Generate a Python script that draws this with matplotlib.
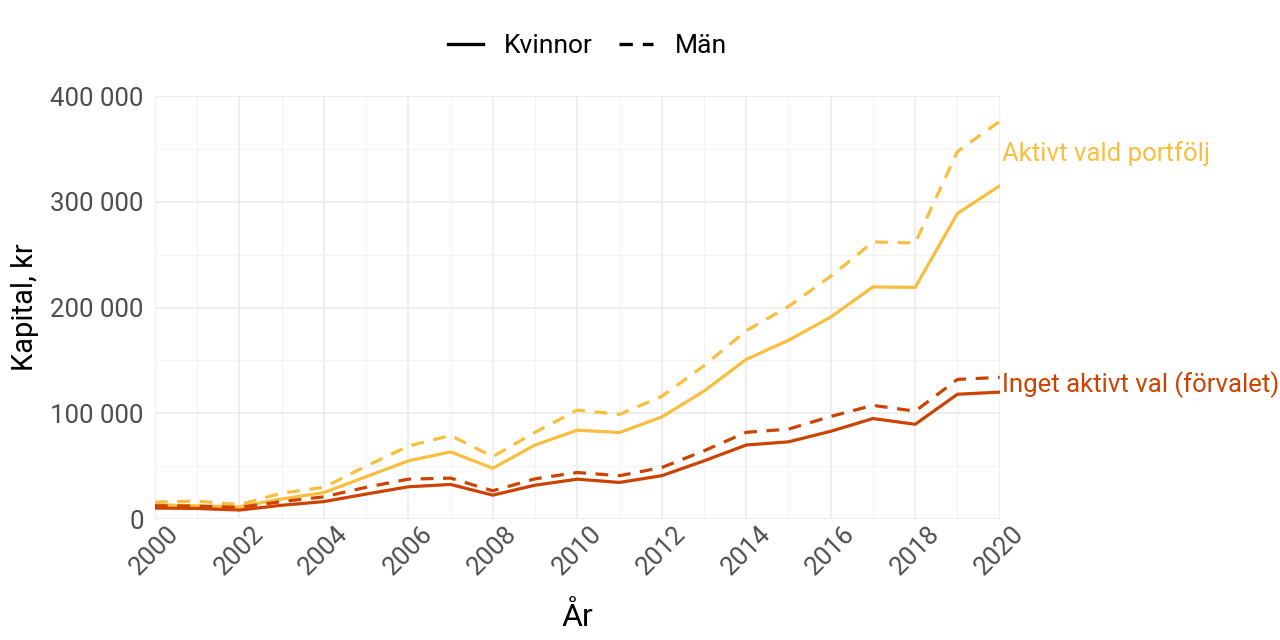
import matplotlib
matplotlib.use("Agg")
import matplotlib.pyplot as plt
from matplotlib.lines import Line2D
from matplotlib.ticker import FuncFormatter, MultipleLocator

plt.rcParams["font.family"] = ["Roboto", "DejaVu Sans"]

years = list(range(2000, 2021))

# Aktivt vald portfölj
aktiv_kvinnor = [13500, 12500, 11500, 19000, 25000, 40000, 55000, 63500, 48000, 70000, 84000,
                 81800, 96500, 121000, 151000, 169000, 191000, 219500, 219000, 289000, 315000]
aktiv_man = [16000, 17000, 13500, 24500, 30000, 50000, 69000, 79000, 59000, 82000, 103000,
             99000, 116000, 145000, 178000, 201000, 229500, 262000, 261000, 347500, 376000]

# Inget aktivt val (förvalet)
inget_kvinnor = [10400, 10000, 8500, 13000, 16500, 23600, 30500, 32700, 22600, 32000, 37700,
                 34600, 41000, 55000, 70000, 73000, 83000, 95000, 89600, 118000, 120000]
inget_man = [12600, 12200, 11000, 16500, 21000, 30000, 37700, 38700, 26700, 38000, 44000,
             41000, 48700, 64500, 82000, 85000, 97000, 107500, 102000, 132000, 134000]

gul = "#F9BE3E"
rod = "#CC4200"

fig = plt.figure(figsize=(12.8, 6.4), dpi=100)
ax = fig.add_axes([0.121, 0.189, 0.66, 0.661])

lw = 2.3
dash = (0, (4, 3))
ax.plot(years, aktiv_kvinnor, color=gul, lw=lw)
ax.plot(years, aktiv_man, color=gul, lw=lw, linestyle=dash)
ax.plot(years, inget_kvinnor, color=rod, lw=lw)
ax.plot(years, inget_man, color=rod, lw=lw, linestyle=dash)

# series labels at right edge
ax.text(2020.05, (aktiv_kvinnor[-1] + aktiv_man[-1]) / 2, "Aktivt vald portfölj",
        color=gul, fontsize=18.5, va="center", ha="left", clip_on=False)
ax.text(2020.05, (inget_kvinnor[-1] + inget_man[-1]) / 2, "Inget aktivt val (förvalet)",
        color=rod, fontsize=18.5, va="center", ha="left", clip_on=False)

ax.set_xlim(2000, 2020)
ax.set_ylim(0, 400000)
ax.xaxis.set_major_locator(MultipleLocator(2))
ax.xaxis.set_minor_locator(MultipleLocator(1))
ax.yaxis.set_major_locator(MultipleLocator(100000))
ax.yaxis.set_minor_locator(MultipleLocator(50000))
ax.yaxis.set_major_formatter(FuncFormatter(lambda v, p: f"{int(v):,}".replace(",", " ")))

ax.grid(which="major", color="#EBEBEB", lw=1.2)
ax.grid(which="minor", color="#F3F3F3", lw=0.8)
ax.set_axisbelow(True)
for s in ax.spines.values():
    s.set_visible(False)
ax.tick_params(which="both", length=0, labelsize=18.5, labelcolor="#4D4D4D")
ax.tick_params(axis="y", pad=8)
ax.tick_params(axis="x", pad=2)
plt.setp(ax.get_xticklabels(), rotation=45, ha="center")

ax.set_xlabel("År", fontsize=23, labelpad=16)
ax.set_ylabel("Kapital, kr", fontsize=21, labelpad=8)

handles = [Line2D([], [], color="black", lw=2.4),
           Line2D([], [], color="black", lw=2.4, linestyle=dash)]
fig.legend(handles, ["Kvinnor", "Män"], loc="center", bbox_to_anchor=(0.459, 0.928),
           ncol=2, frameon=False, fontsize=19, handlelength=1.3, columnspacing=1.0,
           handletextpad=0.8)

fig.savefig("out.png", dpi=100)
